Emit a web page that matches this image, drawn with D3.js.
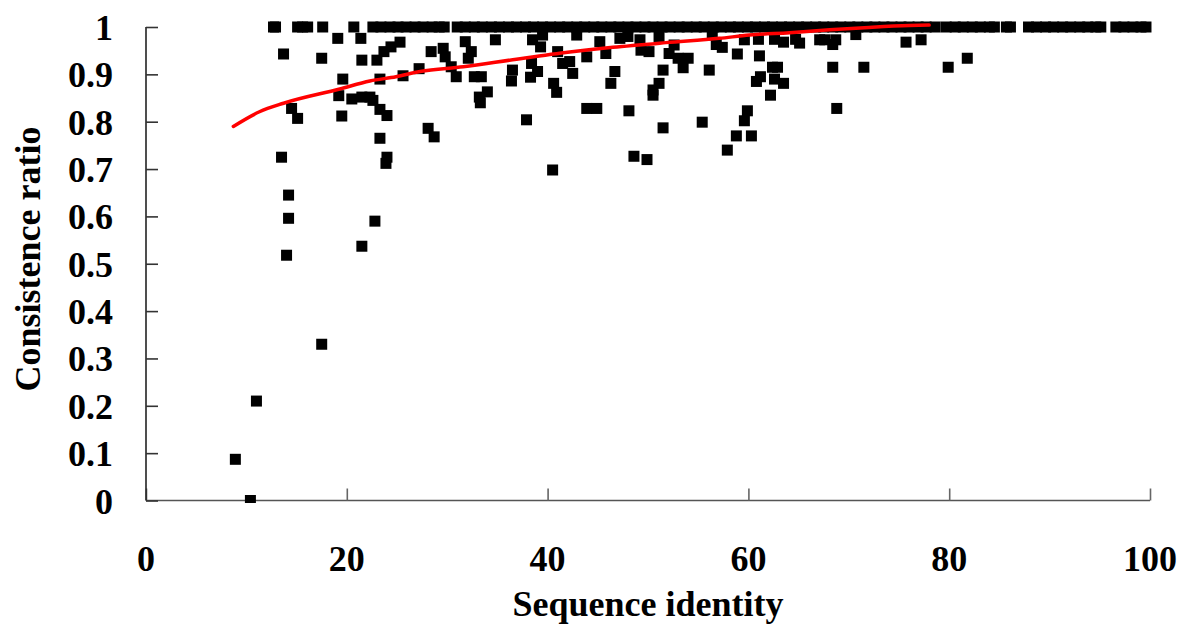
<!DOCTYPE html>
<html>
<head>
<meta charset="utf-8">
<script src="https://cdn.jsdelivr.net/npm/d3@7/dist/d3.min.js"></script>
<style>
  html, body { margin: 0; padding: 0; background: #fff; }
  svg { display: block; }
  text { font-family: "Liberation Serif", "Times New Roman", serif; font-weight: bold; fill: #000; }
</style>
</head>
<body>
<svg id="chart" width="1178" height="628"></svg>
<script>
// Pairs at full consistence (ratio = 1), listed by sequence identity
const fullIdentity = [
  12.7, 12.9, 15.1, 15.6, 16.1, 17.6, 20.7,
  22.6, 23.4, 24.3, 25.1, 25.9, 26.8, 27.6, 28.5, 29.2, 29.7,
  31.0, 31.8, 32.7, 33.5, 34.4, 35.2, 36.1, 36.9, 37.8, 38.6, 39.5, 40.3, 41.2, 42.0,
  42.9, 43.7, 44.6, 45.4, 46.3, 47.1, 48.0, 48.8, 49.7, 50.5, 51.4, 52.2, 53.1, 53.9,
  54.8, 55.6, 56.5, 57.3, 58.2, 59.0, 59.9, 60.7, 61.6, 62.4, 63.3, 64.1, 65.0, 65.8,
  66.7, 67.5, 68.4, 69.2, 70.1, 70.9, 71.8, 72.6, 73.5, 74.3, 75.2, 76.0, 76.9, 77.7, 78.6,
  79.7, 80.6, 81.4, 82.3, 83.1, 84.0, 84.5,
  85.7, 86.1,
  87.9, 88.7, 89.6, 90.4, 91.3, 92.1, 93.0, 93.8, 94.6, 95.1,
  96.6, 97.4, 98.3, 99.1, 99.6
];

// Remaining pairs: sequence identity and consistence ratio
const identity = [
  8.9, 10.4, 11.0, 17.5, 14.0, 21.5, 22.8, 14.2, 14.2, 40.5,
  23.9, 13.5, 24.0, 48.6, 49.9, 57.9, 23.3, 28.7, 58.8, 60.3,
  28.1, 51.5, 55.4, 59.6, 37.9, 15.1, 19.5, 24.0, 59.9, 48.1,
  23.3, 14.5, 43.9, 44.9, 68.8, 33.3, 22.6, 20.5, 21.5, 22.3,
  33.2, 19.2, 50.5, 62.2, 40.9, 34.0, 50.5, 40.6, 46.3, 51.1,
  63.5, 60.8, 36.4, 19.6, 23.3, 62.6, 38.3, 30.9, 32.7, 33.4,
  61.2, 25.6, 42.5, 39.0, 46.7, 36.5, 51.5, 56.1, 27.2, 53.5,
  62.4, 62.9, 68.4, 71.5, 79.9, 30.4, 38.4, 41.5, 42.2, 21.5,
  23.0, 17.5, 32.1, 53.0, 54.0, 81.8, 29.8, 43.9, 61.1, 58.9,
  13.7, 45.8, 52.1, 28.4, 32.4, 41.0, 50.1, 23.7, 49.3, 29.6,
  57.4, 24.4, 39.3, 56.8, 52.6, 68.4, 25.3, 31.8, 45.2, 63.5,
  75.7, 34.8, 38.5, 49.2, 59.6, 61.0, 62.6, 64.7, 67.1, 67.6,
  68.7, 77.2, 65.1, 19.1, 21.4, 47.2, 48.0, 51.1, 42.9, 56.4,
  70.7, 39.5
];
const ratio = [
  0.087, 0.0, 0.21, 0.33, 0.518, 0.537, 0.59, 0.596, 0.645, 0.698,
  0.712, 0.725, 0.725, 0.727, 0.72, 0.74, 0.765, 0.768, 0.77, 0.77,
  0.786, 0.787, 0.799, 0.802, 0.804, 0.807, 0.812, 0.813, 0.823, 0.823,
  0.826, 0.828, 0.828, 0.828, 0.828, 0.84, 0.845, 0.848, 0.852, 0.852,
  0.852, 0.855, 0.856, 0.856, 0.862, 0.863, 0.867, 0.881, 0.881, 0.881,
  0.881, 0.885, 0.886, 0.89, 0.89, 0.89, 0.894, 0.895, 0.895, 0.895,
  0.895, 0.897, 0.902, 0.906, 0.906, 0.909, 0.909, 0.909, 0.912, 0.914,
  0.915, 0.915, 0.915, 0.915, 0.915, 0.916, 0.923, 0.923, 0.927, 0.93,
  0.93, 0.934, 0.934, 0.934, 0.934, 0.934, 0.937, 0.937, 0.939, 0.943,
  0.943, 0.944, 0.944, 0.948, 0.948, 0.948, 0.948, 0.948, 0.951, 0.955,
  0.957, 0.958, 0.958, 0.963, 0.962, 0.963, 0.968, 0.969, 0.969, 0.968,
  0.968, 0.973, 0.973, 0.973, 0.973, 0.974, 0.974, 0.974, 0.973, 0.973,
  0.973, 0.973, 0.966, 0.976, 0.976, 0.976, 0.98, 0.98, 0.983, 0.983,
  0.984, 0.983
];

// Trend curve through the cloud
const trendIdentity = [8.7, 11.3, 13.7, 19.3, 22.3, 24.9, 27.3, 31.6, 36.9, 42.2, 46.5, 51.8, 57.1, 60.1, 64.1, 68.1, 72.0, 76.0, 78.0];
const trendRatio    = [0.790, 0.821, 0.839, 0.869, 0.886, 0.895, 0.906, 0.916, 0.932, 0.947, 0.957, 0.967, 0.976, 0.983, 0.988, 0.994, 0.999, 1.003, 1.004];

const xTicks = [0, 20, 40, 60, 80, 100];
const yTicks = [0, 0.1, 0.2, 0.3, 0.4, 0.5, 0.6, 0.7, 0.8, 0.9, 1];
const xTitle = "Sequence identity";
const yTitle = "Consistence ratio";

const svg = d3.select("#chart");
const plotLeft = 146, plotRight = 1150, plotTop = 27, plotBottom = 500.5;

const x = d3.scaleLinear().domain([0, 100]).range([plotLeft, plotRight]);
const y = d3.scaleLinear().domain([0, 1]).range([plotBottom, plotTop]);

svg.append("defs").append("clipPath").attr("id", "plotClip")
  .append("rect").attr("x", plotLeft).attr("y", 15)
  .attr("width", plotRight - plotLeft + 10).attr("height", plotBottom + 2.5 - 15);

// Axes: ticks point inward
const xAxis = d3.axisBottom(x).tickValues(xTicks).tickSize(-12).tickFormat("");
const yAxis = d3.axisLeft(y).tickValues(yTicks).tickSize(-12).tickFormat("");

const gx = svg.append("g").attr("transform", `translate(0,${plotBottom})`).call(xAxis);
const gy = svg.append("g").attr("transform", `translate(${plotLeft},0)`).call(yAxis);
gx.select(".domain").attr("d", `M${plotLeft},0H${plotRight}`).attr("stroke", "#555").attr("stroke-width", 1.6);
gy.select(".domain").attr("d", `M0,${plotTop}V${plotBottom}`).attr("stroke", "#222").attr("stroke-width", 1.6);
gx.selectAll(".tick line").attr("stroke", "#666").attr("stroke-width", 1.6);
gy.selectAll(".tick line").attr("stroke", "#333").attr("stroke-width", 1.6);

// Tick labels
svg.append("g").selectAll("text").data(xTicks).join("text")
  .attr("x", d => x(d)).attr("y", 571)
  .attr("text-anchor", "middle").attr("font-size", 36)
  .text(d => d);

svg.append("g").selectAll("text").data(yTicks).join("text")
  .attr("x", 113).attr("y", d => y(d) + 13)
  .attr("text-anchor", "end").attr("font-size", 36)
  .text(d => (d === 0 || d === 1) ? d : d.toFixed(1));

// Axis titles
svg.append("text").attr("x", 648).attr("y", 616)
  .attr("text-anchor", "middle").attr("font-size", 36).text(xTitle);
svg.append("text").attr("transform", `translate(40,259) rotate(-90)`)
  .attr("text-anchor", "middle").attr("font-size", 36).text(yTitle);

// Markers
const size = 11;
const pts = fullIdentity.map(v => ({ id: v, r: 1 }))
  .concat(identity.map((v, i) => ({ id: v, r: ratio[i] })));

svg.append("g").attr("clip-path", "url(#plotClip)")
  .selectAll("rect").data(pts).join("rect")
  .attr("x", d => x(d.id) - size / 2)
  .attr("y", d => y(d.r) - size / 2)
  .attr("width", size).attr("height", size)
  .attr("fill", "#000");

// Trend line
const trend = trendIdentity.map((v, i) => [v, trendRatio[i]]);
svg.append("path").datum(trend)
  .attr("fill", "none").attr("stroke", "#ff0000").attr("stroke-width", 3.5)
  .attr("stroke-linejoin", "round").attr("stroke-linecap", "round")
  .attr("d", d3.line().x(d => x(d[0])).y(d => y(d[1])).curve(d3.curveMonotoneX));
</script>
</body>
</html>
